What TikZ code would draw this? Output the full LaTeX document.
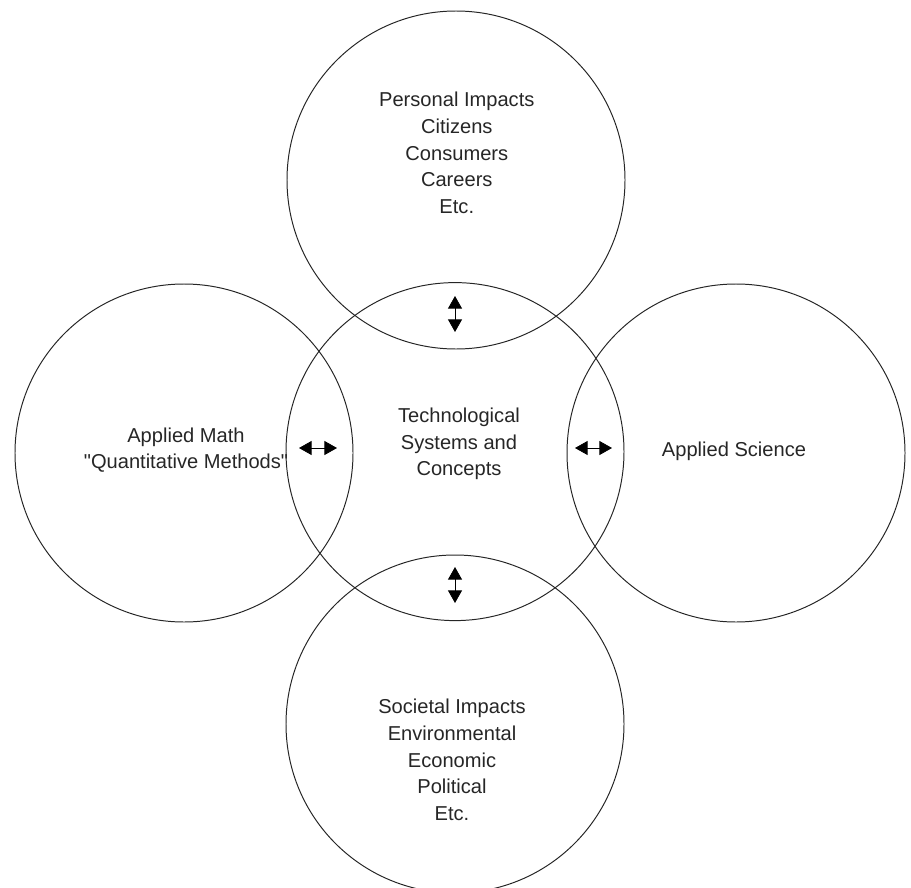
\documentclass[tikz,border=0pt]{standalone}
\usepackage{fontspec}
\setmainfont{Liberation Sans}
\usetikzlibrary{arrows.meta}
\usetikzlibrary{positioning,backgrounds}
\pgfdeclarelayer{edgelayer}
\pgfdeclarelayer{nodelayer}
\pgfsetlayers{background,edgelayer,nodelayer,main}
\tikzstyle{none}=[inner sep=0mm]
\tikzstyle{ring}=[shape=circle,draw=black!85,line width=0.7pt,minimum size=8.45cm,inner sep=0pt]
\tikzstyle{lbl}=[inner sep=0mm,align=center,text=black!85,font=\fontsize{14.3}{19}\selectfont]
\tikzstyle{dbl}=[draw=black,line width=0.6pt,{Triangle[length=9pt,width=10pt]}-{Triangle[length=9pt,width=10pt]}]

\begin{document}
\begin{tikzpicture}
	\useasboundingbox (0, 0) rectangle (22.775, -22.2);
	\begin{pgfonlayer}{nodelayer}
		\node [style=ring] (0) at (11.4, -4.5) {};
		\node [style=ring] (1) at (11.375, -11.29) {};
		\node [style=ring] (2) at (11.375, -18.1) {};
		\node [style=ring] (3) at (4.6, -11.325) {};
		\node [style=ring] (4) at (18.4, -11.325) {};
		\node [style=lbl] (5) at (11.42, -3.825) {Personal Impacts\\Citizens\\Consumers\\Careers\\Etc.};
		\node [style=lbl] (6) at (11.475, -11.1) {Technological\\Systems and\\Concepts};
		\node [style=lbl] (7) at (4.65, -11.25) {Applied Math\\\textquotedbl Quantitative Methods\textquotedbl};
		\node [style=lbl] (8) at (18.35, -11.275) {Applied Science};
		\node [style=lbl] (9) at (11.3, -19.0) {Societal Impacts\\Environmental\\Economic\\Political\\Etc.};
		\node [style=none] (10) at (11.375, -7.4) {};
		\node [style=none] (11) at (11.375, -8.3) {};
		\node [style=none] (12) at (11.375, -14.175) {};
		\node [style=none] (13) at (11.375, -15.075) {};
		\node [style=none] (14) at (7.475, -11.2) {};
		\node [style=none] (15) at (8.425, -11.2) {};
		\node [style=none] (16) at (14.375, -11.2) {};
		\node [style=none] (17) at (15.3, -11.2) {};
	\end{pgfonlayer}
	\begin{pgfonlayer}{edgelayer}
		\draw [style=dbl] (10.center) to (11.center);
		\draw [style=dbl] (12.center) to (13.center);
		\draw [style=dbl] (14.center) to (15.center);
		\draw [style=dbl] (16.center) to (17.center);
	\end{pgfonlayer}
\end{tikzpicture}
\end{document}
